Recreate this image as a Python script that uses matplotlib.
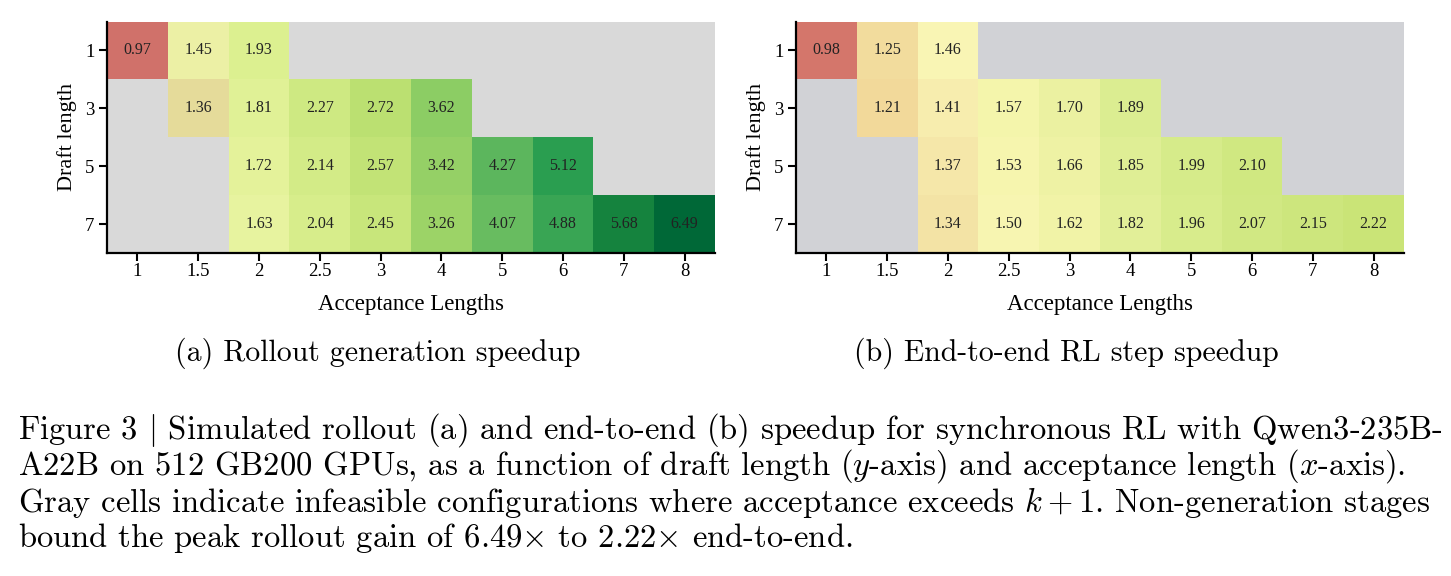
import numpy as np
import matplotlib
matplotlib.use("Agg")
import matplotlib.pyplot as plt
from matplotlib.colors import LinearSegmentedColormap, Normalize

nan = np.nan
acceptance_labels = ["1", "1.5", "2", "2.5", "3", "4", "5", "6", "7", "8"]
draft_labels = ["1", "3", "5", "7"]

rollout_k1 = [0.97, 1.45, 1.93, nan, nan, nan, nan, nan, nan, nan]
rollout_k3 = [nan, 1.36, 1.81, 2.27, 2.72, 3.62, nan, nan, nan, nan]
rollout_k5 = [nan, nan, 1.72, 2.14, 2.57, 3.42, 4.27, 5.12, nan, nan]
rollout_k7 = [nan, nan, 1.63, 2.04, 2.45, 3.26, 4.07, 4.88, 5.68, 6.49]

e2e_k1 = [0.98, 1.25, 1.46, nan, nan, nan, nan, nan, nan, nan]
e2e_k3 = [nan, 1.21, 1.41, 1.57, 1.70, 1.89, nan, nan, nan, nan]
e2e_k5 = [nan, nan, 1.37, 1.53, 1.66, 1.85, 1.99, 2.10, nan, nan]
e2e_k7 = [nan, nan, 1.34, 1.50, 1.62, 1.82, 1.96, 2.07, 2.15, 2.22]

subcaption_a = "(a) Rollout generation speedup"
subcaption_b = "(b) End-to-end RL step speedup"
caption_lines = [
    r"Figure 3 $|$ Simulated rollout (a) and end-to-end (b) speedup for synchronous RL with Qwen3-235B-",
    r"A22B on 512 GB200 GPUs, as a function of draft length ($y$-axis) and acceptance length ($x$-axis).",
    r"Gray cells indicate infeasible configurations where acceptance exceeds $k+1$. Non-generation stages",
    r"bound the peak rollout gain of 6.49$\times$ to 2.22$\times$ end-to-end.",
]

plt.rcParams["mathtext.fontset"] = "cm"
tick_font = "Liberation Serif"


def make_cmap(anchors, vmin, vmax, under, bad):
    pts = [((v - vmin) / (vmax - vmin), c) for v, c in anchors]
    cm = LinearSegmentedColormap.from_list("c", pts)
    return cm.with_extremes(under=under, bad=bad), Normalize(vmin=vmin, vmax=vmax)


left_anchors = [(1.0, "#ddd094"), (1.36, "#e6dc9b"), (1.45, "#eef6a8"), (1.93, "#dcf090"),
                (2.45, "#c8e67b"), (2.72, "#bce172"), (3.26, "#9dd468"), (3.62, "#8ccd64"),
                (4.07, "#68bc60"), (4.88, "#3aa655"), (5.12, "#2a9e50"), (5.68, "#16843f"),
                (6.5, "#006837")]
right_anchors = [(1.0, "#efcf8e"), (1.21, "#f2d99a"), (1.34, "#f4e4a6"), (1.46, "#faf5b5"),
                 (1.57, "#f4f5ab"), (1.70, "#ecf2a2"), (1.89, "#dcee92"), (2.07, "#d2e984"),
                 (2.25, "#c9e475")]

fig = plt.figure(figsize=(14.51, 5.76), dpi=100)
W, H = 1451, 576


def panel(rect, rows, anchors, vmax, under, bad):
    ax = fig.add_axes(rect)
    data = np.ma.masked_invalid(np.array(rows, dtype=float))
    cmap, norm = make_cmap(anchors, 1.0, vmax, under, bad)
    ax.imshow(data, cmap=cmap, norm=norm, aspect="auto", interpolation="nearest")
    for i in range(data.shape[0]):
        for j in range(data.shape[1]):
            if not np.ma.is_masked(data[i, j]):
                ax.text(j, i, f"{data[i, j]:.2f}", ha="center", va="center",
                        fontsize=11.5, family=tick_font, color="#222222")
    ax.set_xticks(range(len(acceptance_labels)))
    ax.set_xticklabels(acceptance_labels, fontsize=13.5, family=tick_font)
    ax.set_yticks(range(len(draft_labels)))
    ax.set_yticklabels(draft_labels, fontsize=13.5, family=tick_font)
    ax.tick_params(length=6, width=1.5, color="black", pad=3)
    ax.tick_params(axis="x", pad=1.5)
    for s in ["top", "right"]:
        ax.spines[s].set_visible(False)
    for s in ["left", "bottom"]:
        ax.spines[s].set_linewidth(1.6)
        ax.spines[s].set_color("black")
    ax.set_xlabel("Acceptance Lengths", fontsize=16.5, family=tick_font, labelpad=10)
    ax.set_ylabel("Draft length", fontsize=16, family=tick_font, labelpad=6)
    return ax


bottom = 1 - 253 / H
height = (253 - 21.5) / H
panel([107 / W, bottom, (715 - 107) / W, height],
      [rollout_k1, rollout_k3, rollout_k5, rollout_k7], left_anchors, 6.5,
      "#d0716a", "#d9d9d9")
panel([796 / W, bottom, (1404 - 796) / W, height],
      [e2e_k1, e2e_k3, e2e_k5, e2e_k7], right_anchors, 2.25,
      "#d4766b", "#d1d2d6")

cap_font = "cmr10"
fig.text(378 / W, 1 - 353 / H, subcaption_a, ha="center", va="center",
         fontsize=21.5, family=cap_font)
fig.text(1066 / W, 1 - 353 / H, subcaption_b, ha="center", va="center",
         fontsize=21.5, family=cap_font)
for k, line in enumerate(caption_lines):
    fig.text(18 / W, 1 - (430 + 36 * k) / H, line, ha="left", va="center",
             fontsize=23.5, family=cap_font)

fig.savefig("out.png", dpi=100)
